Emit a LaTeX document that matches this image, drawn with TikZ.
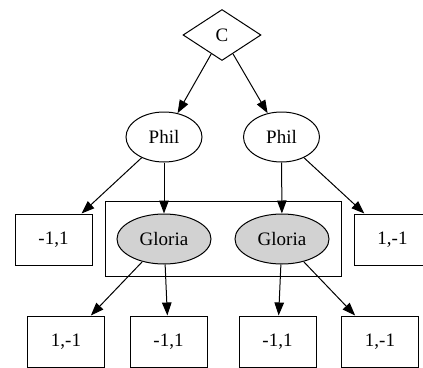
\documentclass[tikz,border=0pt]{standalone}
\usepackage{fontspec}
\setmainfont{Liberation Serif}
\usetikzlibrary{shapes.geometric,arrows.meta,fit}
\begin{document}
\begin{tikzpicture}[x=1pt,y=-1pt,
  every node/.style={font=\fontsize{19}{21}\selectfont, inner sep=0pt, line width=1pt},
  chance/.style={draw, diamond, aspect=1.53, minimum width=78pt, minimum height=51pt},
  player/.style={draw, ellipse, minimum width=76pt, minimum height=50pt},
  infoplayer/.style={draw, ellipse, fill=gray!35, minimum width=94pt, minimum height=50pt},
  payoff/.style={draw, rectangle, minimum width=77pt, minimum height=51pt},
  edge/.style={draw, line width=1pt, -{Triangle[length=13pt,width=9.5pt]}}]
\useasboundingbox (0,0) rectangle (423,367);
% root
\node[chance] (c) at (222,35) {C};
% first mover
\node[player] (p1) at (164,137) {Phil};
\node[player] (p2) at (281.5,137) {Phil};
% second mover, same information set
\node[infoplayer] (g1) at (164,239) {Gloria};
\node[infoplayer] (g2) at (282,239) {Gloria};
\node[draw, rectangle, line width=1pt, fit=(g1)(g2), inner xsep=11.5pt, inner ysep=12pt] (info) {};
% payoffs
\node[payoff] (a1) at (53.5,239.5) {-1,1};
\node[payoff] (a2) at (392.5,239.5) {1,-1};
\node[payoff] (b1) at (66,341.5) {1,-1};
\node[payoff] (b2) at (168.5,341.5) {-1,1};
\node[payoff] (b3) at (277.5,341.5) {-1,1};
\node[payoff] (b4) at (380,341.5) {1,-1};
% moves
\path[edge] (c) -- (p1);
\path[edge] (c) -- (p2);
\path[edge] (p1) -- (a1);
\path[edge] (p1) -- (g1);
\path[edge] (p2) -- (g2);
\path[edge] (p2) -- (a2);
\path[edge] (g1) -- (b1);
\path[edge] (g1) -- (b2);
\path[edge] (g2) -- (b3);
\path[edge] (g2) -- (b4);
\end{tikzpicture}
\end{document}
